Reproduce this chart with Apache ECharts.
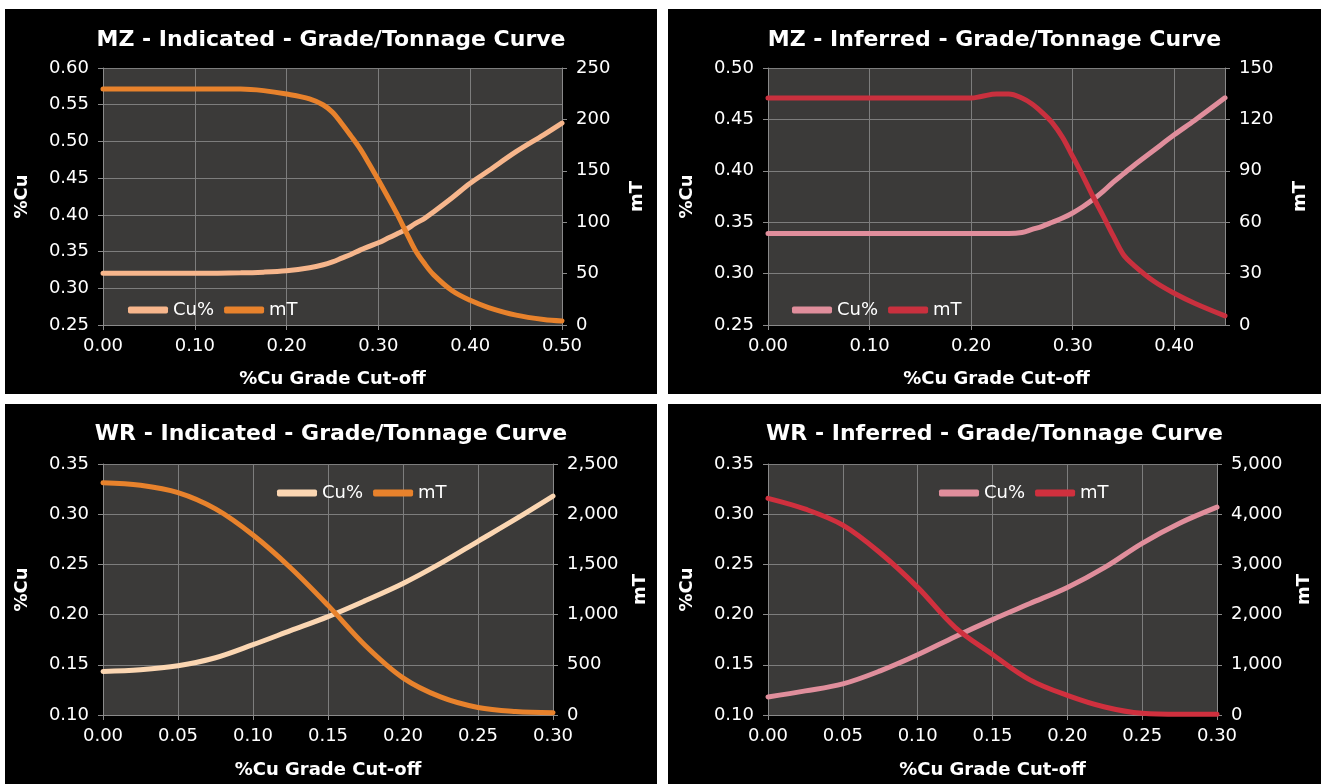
<!DOCTYPE html>
<html>
<head>
<meta charset="utf-8">
<script src="https://cdn.jsdelivr.net/npm/echarts@6/dist/echarts.min.js"></script>
<style>
  html, body { margin: 0; padding: 0; background: #fff; }
  .panel { position: absolute; background: #000; }
</style>
</head>
<body>
<div id="p1" class="panel" style="left:5px;top:9px;width:652px;height:385px"></div>
<div id="p2" class="panel" style="left:668px;top:9px;width:653px;height:385px"></div>
<div id="p3" class="panel" style="left:5px;top:404px;width:652px;height:380px"></div>
<div id="p4" class="panel" style="left:668px;top:404px;width:653px;height:380px"></div>
<script>
// MZ - Indicated
const mzIndX = [0, 0.05, 0.10, 0.15, 0.175, 0.20, 0.225, 0.24, 0.25, 0.26, 0.27, 0.28, 0.29, 0.30, 0.31, 0.32, 0.33, 0.34, 0.35, 0.36, 0.38, 0.40, 0.42, 0.45, 0.48, 0.50]
const mzIndCu = [0.3205, 0.3205, 0.3205, 0.321, 0.322, 0.324, 0.328, 0.332, 0.336, 0.341, 0.346, 0.352, 0.357, 0.362, 0.368, 0.374, 0.380, 0.388, 0.395, 0.404, 0.423, 0.443, 0.460, 0.486, 0.509, 0.525]
const mzIndMt = [229.5, 229.5, 229.5, 229.5, 228, 224.7, 220, 214, 207, 196, 184, 171.5, 156.6, 141, 125, 108.5, 90.7, 73, 60, 49, 33.6, 24, 17, 9.6, 5.3, 3.9]

// MZ - Inferred
const mzInfX = [0, 0.05, 0.10, 0.15, 0.20, 0.21, 0.225, 0.237, 0.25, 0.26, 0.27, 0.28, 0.29, 0.30, 0.31, 0.32, 0.33, 0.34, 0.35, 0.36, 0.38, 0.40, 0.42, 0.45]
const mzInfCu = [0.339, 0.339, 0.339, 0.339, 0.339, 0.339, 0.339, 0.339, 0.340, 0.343, 0.346, 0.350, 0.354, 0.359, 0.365, 0.372, 0.380, 0.389, 0.397, 0.405, 0.420, 0.435, 0.449, 0.471]
const mzInfMt = [132.5, 132.5, 132.5, 132.5, 132.5, 133.4, 134.8, 134.8, 132.5, 129, 124, 118, 109.5, 98.4, 87, 75, 63.7, 52, 41, 35, 25.5, 18.5, 12.7, 5.3]

// WR - Indicated
const wrIndX = [0, 0.025, 0.05, 0.075, 0.10, 0.125, 0.15, 0.175, 0.20, 0.225, 0.25, 0.275, 0.30]
const wrIndCu = [0.1433, 0.145, 0.149, 0.157, 0.170, 0.184, 0.198, 0.214, 0.231, 0.251, 0.273, 0.295, 0.318]
const wrIndMt = [2314, 2288, 2215, 2053, 1793, 1467, 1092, 690, 370, 180, 75, 35, 23]

// WR - Inferred
const wrInfX = [0, 0.025, 0.05, 0.075, 0.10, 0.125, 0.15, 0.175, 0.20, 0.225, 0.25, 0.275, 0.30]
const wrInfCu = [0.118, 0.124, 0.131, 0.144, 0.160, 0.178, 0.195, 0.211, 0.227, 0.247, 0.271, 0.291, 0.307]
const wrInfMt = [4316, 4100, 3781, 3227, 2542, 1746, 1206, 700, 391, 159, 33, 13, 13]

const FONT = 'DejaVu Sans'
const AXIS_GRAY = '#8a8a8a'

function pairs(xs, ys) {
  return xs.map((x, i) => [x, ys[i]])
}

function buildOption(cfg) {
  const labelStyle = { color: '#fff', fontSize: 18, fontFamily: FONT }
  const nameStyle = { color: '#fff', fontSize: 18, fontWeight: 'bold', fontFamily: FONT }
  const lineSeries = (name, yIndex, color, ys) => ({
    name: name,
    type: 'line',
    yAxisIndex: yIndex,
    smooth: 0.35,
    showSymbol: false,
    color: color,
    lineStyle: { width: 5, color: color, cap: 'round' },
    data: pairs(cfg.x, ys)
  })
  return {
    backgroundColor: '#000',
    animation: false,
    title: {
      text: cfg.title,
      left: 'center',
      top: cfg.titleTop,
      textStyle: { color: '#fff', fontSize: 22, fontWeight: 'bold', fontFamily: FONT }
    },
    legend: {
      left: cfg.legendLeft,
      top: cfg.legendTop,
      icon: 'roundRect',
      itemWidth: 40,
      itemHeight: 7,
      itemGap: 10,
      textStyle: { color: '#fff', fontSize: 18, fontFamily: FONT },
      data: ['Cu%', 'mT']
    },
    grid: {
      left: cfg.grid[0],
      right: cfg.grid[1],
      top: cfg.grid[2],
      bottom: cfg.grid[3],
      show: true,
      backgroundColor: '#3b3a39',
      borderWidth: 0
    },
    xAxis: {
      type: 'value',
      min: 0,
      max: cfg.xMax,
      interval: cfg.xInterval,
      name: '%Cu Grade Cut-off',
      nameLocation: 'middle',
      nameGap: cfg.xNameGap,
      nameTextStyle: nameStyle,
      axisLine: { show: true, lineStyle: { color: AXIS_GRAY } },
      axisTick: { show: true, length: 5, lineStyle: { color: AXIS_GRAY } },
      axisLabel: Object.assign({ margin: 12, showMaxLabel: cfg.showMaxX, formatter: v => v.toFixed(2) }, labelStyle),
      splitLine: { show: true, lineStyle: { color: '#7d7d7d', width: 1 } }
    },
    yAxis: [
      {
        type: 'value',
        min: cfg.cuMin,
        max: cfg.cuMax,
        interval: 0.05,
        name: '%Cu',
        nameLocation: 'middle',
        nameRotate: 90,
        nameGap: 72,
        nameTextStyle: nameStyle,
        axisLine: { show: true, lineStyle: { color: AXIS_GRAY } },
        axisTick: { show: true, length: 5, lineStyle: { color: AXIS_GRAY } },
        axisLabel: Object.assign({ margin: 14, formatter: v => v.toFixed(2) }, labelStyle),
        splitLine: { show: true, lineStyle: { color: '#7d7d7d', width: 1 } }
      },
      {
        type: 'value',
        min: 0,
        max: cfg.mtMax,
        interval: cfg.mtInterval,
        name: 'mT',
        nameLocation: 'middle',
        nameRotate: 90,
        nameGap: cfg.mtNameGap,
        nameTextStyle: nameStyle,
        axisLine: { show: true, lineStyle: { color: AXIS_GRAY } },
        axisTick: { show: true, length: 5, lineStyle: { color: AXIS_GRAY } },
        axisLabel: Object.assign({ margin: 14, formatter: v => v.toLocaleString('en-US') }, labelStyle),
        splitLine: { show: false }
      }
    ],
    series: [
      lineSeries('Cu%', 0, cfg.cuColor, cfg.cu),
      lineSeries('mT', 1, cfg.mtColor, cfg.mt)
    ]
  }
}

const panels = [
  {
    el: 'p1', title: 'MZ - Indicated - Grade/Tonnage Curve', titleTop: 15,
    grid: [98, 95, 59, 69], xMax: 0.5, xInterval: 0.1, showMaxX: true, xNameGap: 45,
    cuMin: 0.25, cuMax: 0.6, mtMax: 250, mtInterval: 50, mtNameGap: 66,
    legendLeft: 118, legendTop: 287,
    x: mzIndX, cu: mzIndCu, mt: mzIndMt, cuColor: '#f7b68c', mtColor: '#e8822c'
  },
  {
    el: 'p2', title: 'MZ - Inferred - Grade/Tonnage Curve', titleTop: 15,
    grid: [100, 96, 59, 69], xMax: 0.45, xInterval: 0.1, showMaxX: false, xNameGap: 45,
    cuMin: 0.25, cuMax: 0.5, mtMax: 150, mtInterval: 30, mtNameGap: 66,
    legendLeft: 119, legendTop: 287,
    x: mzInfX, cu: mzInfCu, mt: mzInfMt, cuColor: '#e08e9c', mtColor: '#c9303e'
  },
  {
    el: 'p3', title: 'WR - Indicated - Grade/Tonnage Curve', titleTop: 14,
    grid: [98, 95, 60, 64], xMax: 0.3, xInterval: 0.05, showMaxX: true, xNameGap: 46,
    cuMin: 0.1, cuMax: 0.35, mtMax: 2500, mtInterval: 500, mtNameGap: 78,
    legendLeft: 267, legendTop: 75,
    x: wrIndX, cu: wrIndCu, mt: wrIndMt, cuColor: '#fbd6b2', mtColor: '#e8822c'
  },
  {
    el: 'p4', title: 'WR - Inferred - Grade/Tonnage Curve', titleTop: 14,
    grid: [100, 96, 60, 64], xMax: 0.3, xInterval: 0.05, showMaxX: true, xNameGap: 46,
    cuMin: 0.1, cuMax: 0.35, mtMax: 5000, mtInterval: 1000, mtNameGap: 78,
    legendLeft: 266, legendTop: 75,
    x: wrInfX, cu: wrInfCu, mt: wrInfMt, cuColor: '#e08e9c', mtColor: '#d0303e'
  }
]

panels.forEach(cfg => {
  const chart = echarts.init(document.getElementById(cfg.el))
  chart.setOption(buildOption(cfg))
})
</script>
</body>
</html>
